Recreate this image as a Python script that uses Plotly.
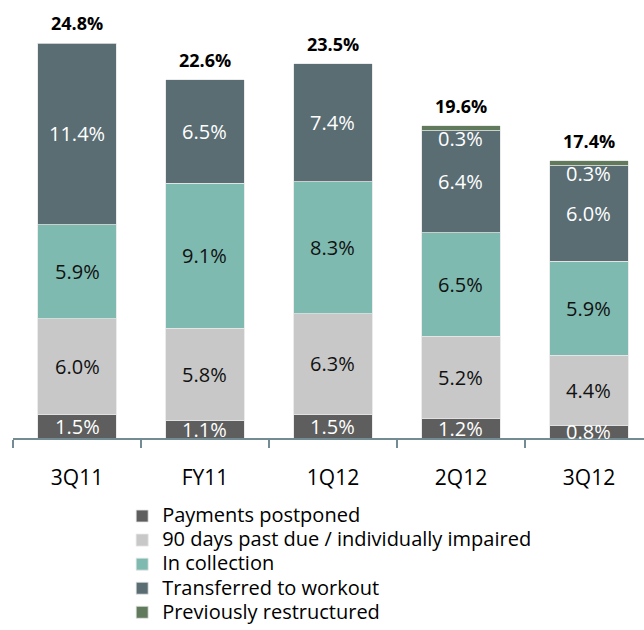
import plotly.graph_objects as go

categories = ["3Q11", "FY11", "1Q12", "2Q12", "3Q12"]
totals = [24.8, 22.6, 23.5, 19.6, 17.4]

series_names = [
    "Payments postponed",
    "90 days past due / individually impaired",
    "In collection",
    "Transferred to workout",
    "Previously restructured",
]
payments_postponed = [1.5, 1.1, 1.5, 1.2, 0.8]
days_past_due = [6.0, 5.8, 6.3, 5.2, 4.4]
in_collection = [5.9, 9.1, 8.3, 6.5, 5.9]
transferred_to_workout = [11.4, 6.5, 7.4, 6.4, 6.0]
previously_restructured = [0.0, 0.0, 0.0, 0.3, 0.3]

series_values = [
    payments_postponed,
    days_past_due,
    in_collection,
    transferred_to_workout,
    previously_restructured,
]

colors = ["#5e5e5e", "#c8c8c8", "#7fbab0", "#5a6d73", "#627a5c"]
label_colors = ["#ffffff", "#111111", "#111111", "#ffffff", "#ffffff"]

FONT = "'Open Sans', 'Noto Sans', sans-serif"

fig = go.Figure()
for name, vals, col in zip(series_names, series_values, colors):
    fig.add_trace(go.Bar(
        # legend rows are spaced by the legend font; the label itself is drawn larger
        name=f'<span style="font-size:20px">{name}</span>',
        x=categories,
        y=[v if v > 0 else None for v in vals],
        marker=dict(color=col, line=dict(color="#e6e6e6", width=0.8)),
        width=0.61,
        hoverinfo="skip",
    ))

annotations = []
base = [0.0] * len(categories)
for s, vals in enumerate(series_values):
    for i, v in enumerate(vals):
        if v <= 0:
            continue
        if s == 4:
            # thin top segment: label sits just below it
            annotations.append(dict(
                x=categories[i], y=base[i], text=f"{v:.1f}%",
                showarrow=False, yanchor="middle", yshift=-8,
                font=dict(family=FONT, size=20, color=label_colors[s]),
            ))
        else:
            annotations.append(dict(
                x=categories[i], y=base[i] + v / 2, text=f"{v:.1f}%",
                showarrow=False, yanchor="middle",
                font=dict(family=FONT, size=20, color=label_colors[s]),
            ))
        base[i] += v

for i, t in enumerate(totals):
    annotations.append(dict(
        x=categories[i], y=base[i], text=f"<b>{t:.1f}%</b>",
        showarrow=False, yanchor="bottom", yshift=6,
        font=dict(family=FONT, size=18, color="#000000"),
    ))

fig.update_layout(
    barmode="stack",
    width=644,
    height=630,
    margin=dict(l=13, r=0, t=0, b=192),
    paper_bgcolor="white",
    plot_bgcolor="white",
    bargap=0.39,
    font=dict(family=FONT, size=18, color="#000000"),
    xaxis=dict(
        type="category",
        range=[-0.5, 4.43],
        automargin=False,
        showline=True,
        linecolor="#738c93",
        linewidth=1.5,
        ticks="outside",
        tickson="boundaries",
        ticklen=8,
        tickwidth=1.5,
        tickcolor="#738c93",
        ticklabelstandoff=20,
        tickangle=0,
        tickfont=dict(family=FONT, size=21, color="#000000"),
        showgrid=False,
        zeroline=False,
    ),
    yaxis=dict(
        range=[0, 27.5],
        visible=False,
        automargin=False,
        showgrid=False,
        zeroline=False,
    ),
    legend=dict(
        orientation="v",
        x=0.173,
        xanchor="left",
        y=-192 / 438,
        yanchor="bottom",
        traceorder="normal",
        font=dict(family=FONT, size=16.2, color="#000000"),
        bgcolor="rgba(0,0,0,0)",
        itemclick=False,
    ),
    annotations=annotations,
    showlegend=True,
)

fig.write_html("out.html")
